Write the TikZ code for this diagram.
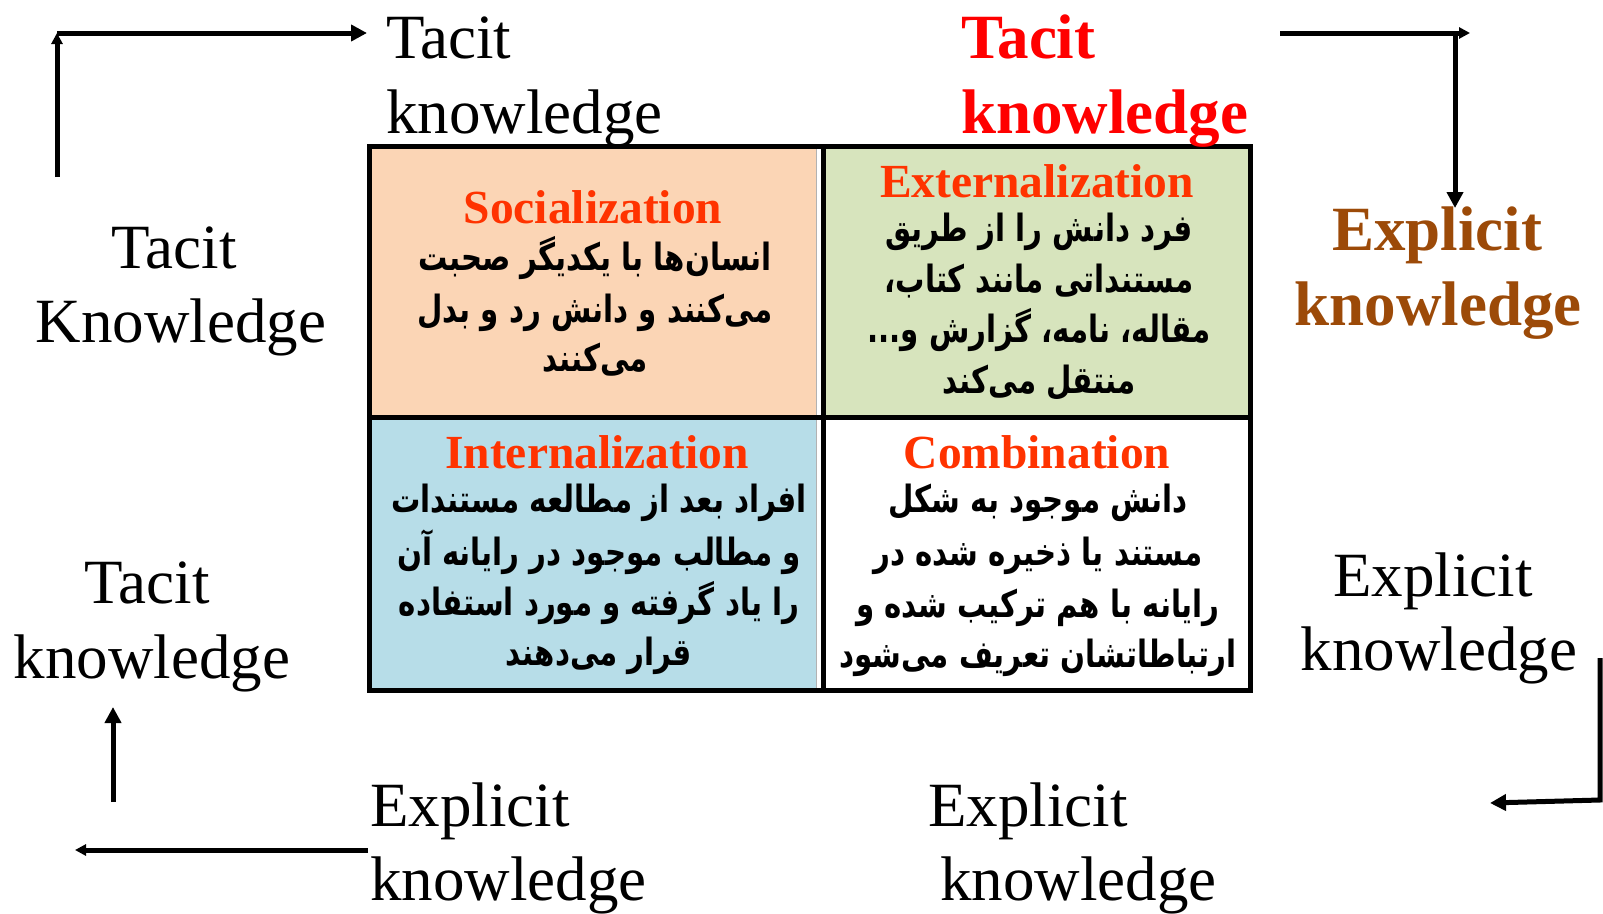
\documentclass[tikz,border=0pt]{standalone}
\usepackage{fontspec}
\setmainfont{Liberation Serif}
\newfontfamily\fafont[Script=Arabic,FakeStretch=0.78]{DejaVu Sans}
\TeXXeTstate=1
\usetikzlibrary{arrows.meta}
\definecolor{ttlred}{RGB}{255,51,0}
\definecolor{tacitred}{RGB}{255,0,0}
\definecolor{brownx}{RGB}{156,74,8}
\definecolor{peach}{RGB}{251,213,181}
\definecolor{sage}{RGB}{215,228,189}
\definecolor{skyb}{RGB}{183,221,232}
\begin{document}
\begin{tikzpicture}[x=1pt,y=-1pt,
  lbl/.style={inner sep=0pt, font=\fontsize{63}{75}\selectfont},
  lblb/.style={inner sep=0pt, font=\fontsize{63}{75}\selectfont\bfseries},
  ttl/.style={inner sep=0pt, anchor=base, text=ttlred, font=\fontsize{47.5}{50}\selectfont\bfseries},
  fa/.style={inner sep=0pt, anchor=base, font=\fontsize{37.5}{40}\selectfont\fafont\bfseries},
  grid/.style={line width=5pt},
  arr/.style={line width=5pt, -{Triangle[length=16pt,width=16pt]}},
  arrs/.style={line width=5pt, -{Triangle[length=11pt,width=11pt]}}]
\useasboundingbox (0,0) rectangle (1603,913);
% cells
\fill[peach] (369,146) rectangle (816,417);
\fill[sage] (822,146) rectangle (1250,417);
\fill[skyb] (369,417) rectangle (816,690);
\fill[white] (822,417) rectangle (1250,690);
\draw[gray!60, line width=1pt] (816,146) -- (816,690);
\draw[grid] (369,146) rectangle (1250,690);
\draw[grid] (823,146) -- (823,690);
\draw[grid] (369,417) -- (1250,417);
% Socialization
\node[ttl] (t1) at (593,223) {Socialization};
\node[fa] (s1) at (595,270) {\beginR انسان‌ها با یکدیگر صحبت\endR};
\node[fa] (s2) at (595,322) {\beginR می‌کنند و دانش رد و بدل\endR};
\node[fa] (s3) at (595,371) {\beginR می‌کنند\endR};
% Externalization
\node[ttl] (t2) at (1037,197) {Externalization};
\node[fa] (e1) at (1039,241) {\beginR فرد دانش را از طریق\endR};
\node[fa] (e2) at (1039,292) {\beginR مستنداتی مانند کتاب،\endR};
\node[fa] (e3) at (1039,342) {\beginR مقاله، نامه، گزارش و...\endR};
\node[fa] (e4) at (1039,393) {\beginR منتقل می‌کند\endR};
% Internalization
\node[ttl] (t3) at (597,468) {Internalization};
\node[fa] (i1) at (599,512) {\beginR افراد بعد از مطالعه مستندات\endR};
\node[fa] (i2) at (599,565) {\beginR و مطالب موجود در رایانه آن\endR};
\node[fa] (i3) at (599,615) {\beginR را یاد گرفته و مورد استفاده\endR};
\node[fa] (i4) at (599,665) {\beginR قرار می‌دهند\endR};
% Combination
\node[ttl] (t4) at (1037,468) {Combination};
\node[fa] (c1) at (1038,512) {\beginR دانش موجود به شکل\endR};
\node[fa] (c2) at (1038,565) {\beginR مستند یا ذخیره شده در\endR};
\node[fa] (c3) at (1038,617) {\beginR رایانه با هم ترکیب شده و\endR};
\node[fa] (c4) at (1038,667) {\beginR ارتباطاتشان تعریف می‌شود\endR};
% outer labels
\node[lbl, anchor=base west] (tk1a) at (386,58) {Tacit};
\node[lbl, anchor=base west] (tk1b) at (386,133) {knowledge};
\node[lblb, anchor=base west, text=tacitred] (tk2a) at (961,58) {Tacit};
\node[lblb, anchor=base west, text=tacitred] (tk2b) at (961,133) {knowledge};
\node[lblb, anchor=base, text=brownx] (ek1a) at (1437,250) {Explicit};
\node[lblb, anchor=base, text=brownx] (ek1b) at (1438,325) {knowledge};
\node[lbl, anchor=base] (tk3a) at (174,268) {Tacit};
\node[lbl, anchor=base] (tk3b) at (181,342) {Knowledge};
\node[lbl, anchor=base] (tk4a) at (147,603) {Tacit};
\node[lbl, anchor=base] (tk4b) at (152,678) {knowledge};
\node[lbl, anchor=base] (ek2a) at (1433,596) {Explicit};
\node[lbl, anchor=base] (ek2b) at (1439,670) {knowledge};
\node[lbl, anchor=base west] (ek3a) at (370,826) {Explicit};
\node[lbl, anchor=base west] (ek3b) at (370,900) {knowledge};
\node[lbl, anchor=base west] (ek4a) at (928,826) {Explicit};
\node[lbl, anchor=base west] (ek4b) at (940,900) {knowledge};
% arrow coordinates
\coordinate (a1) at (57,177);
\coordinate (a2) at (57,33);
\coordinate (a3) at (367,33);
\coordinate (b1) at (1280,33);
\coordinate (b2) at (1470,33);
\coordinate (b3) at (1455,33);
\coordinate (b4) at (1455,208);
\coordinate (d1) at (1600,658);
\coordinate (d2) at (1600,800);
\coordinate (d3) at (1490,803);
\coordinate (f1) at (368,850);
\coordinate (f2) at (75,850);
\coordinate (g1) at (113,802);
\coordinate (g2) at (113,707);
\draw[arrs] (a1) -- (a2);
\draw[arr] (a2) -- (a3);
\draw[arrs] (b1) -- (b2);
\draw[arr] (b3) -- (b4);
\draw[arr] (d1) -- (d2) -- (d3);
\draw[arrs] (f1) -- (f2);
\draw[arr] (g1) -- (g2);
\end{tikzpicture}
\end{document}
